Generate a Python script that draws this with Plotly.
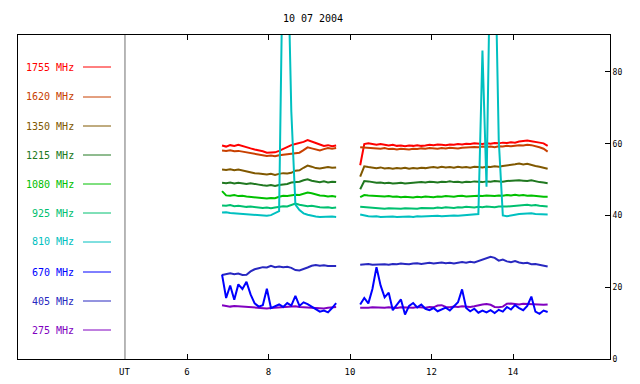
import plotly.graph_objects as go

# ---------------- data ----------------
title_text = "10 07 2004"
labels = ["1755 MHz", "1620 MHz", "1350 MHz", "1215 MHz", "1080 MHz",
          "925 MHz", "810 MHz", "670 MHz", "405 MHz", "275 MHz"]
colors = ["#ff0000", "#c84000", "#805800", "#207820", "#00c000",
          "#00c070", "#00c0c0", "#0000ff", "#2828c0", "#8000c0"]
x_ticks = [6, 8, 10, 12, 14]
y_ticks = [0, 20, 40, 60, 80]
ut_hour = 4.478

# sample times (UT hours) of the two observing blocks
am_start, pm_start, step = 6.86, 10.25, 0.1
am_count, pm_count = 29, 47

mhz1755_am = [59.5, 59.2, 59.6, 59.4, 59.7, 59.3, 59.0, 58.7, 58.4, 58.2, 57.9, 57.5, 57.6, 57.6, 58.0,
              58.6, 59.2, 59.6, 59.9, 60.1, 60.5, 61.0, 60.7, 60.2, 59.8, 59.4, 59.6, 59.3, 59.5]
mhz1755_pm = [54.0, 59.9, 60.1, 59.8, 59.7, 59.9, 59.6, 59.5, 59.7, 59.4, 59.5, 59.3, 59.5, 59.4, 59.6, 59.4,
              59.5, 59.7, 59.6, 59.8, 59.7, 59.6, 59.8, 59.7, 59.9, 59.8, 60.0, 59.9, 60.1, 60.0, 59.9, 60.1,
              60.0, 60.2, 60.1, 60.3, 60.2, 60.4, 60.3, 60.6, 60.8, 60.9, 60.7, 60.6, 60.3, 60.1, 59.4]

mhz1620_am = [58.1, 58.0, 58.2, 57.9, 58.0, 57.8, 57.6, 57.5, 57.2, 57.0, 56.8, 56.6, 56.7, 56.5, 56.8,
              56.9, 57.1, 57.2, 57.4, 57.5, 58.2, 59.0, 58.7, 58.3, 58.1, 58.5, 58.8, 58.6, 58.8]
mhz1620_pm = [59.0, 58.9, 58.8, 58.9, 58.7, 58.6, 58.8, 58.5, 58.6, 58.4, 58.6, 58.5, 58.4, 58.6, 58.5, 58.7,
              58.6, 58.8, 58.7, 58.6, 58.8, 58.7, 58.9, 58.8, 58.7, 58.9, 59.0, 58.9, 59.1, 59.0, 59.2, 59.1,
              59.2, 59.0, 59.3, 59.2, 59.4, 59.3, 59.5, 59.6, 59.5, 59.7, 59.6, 59.4, 59.0, 58.6, 57.8]

mhz1350_am = [52.8, 52.7, 52.9, 52.6, 52.8, 52.5, 52.3, 52.0, 51.8, 51.7, 51.6, 51.4, 51.6, 51.3, 51.6,
              51.8, 51.7, 51.9, 52.5, 52.6, 53.3, 53.9, 53.6, 53.2, 53.1, 53.4, 53.5, 53.3, 53.4]
mhz1350_pm = [50.8, 53.7, 53.5, 53.3, 53.2, 53.4, 53.1, 53.2, 53.0, 53.2, 53.1, 53.3, 53.0, 53.2, 53.1, 53.3,
              53.2, 53.4, 53.5, 53.3, 53.6, 53.4, 53.5, 53.3, 53.6, 53.4, 53.5, 53.3, 53.6, 53.5, 53.4, 53.6,
              53.5, 53.7, 53.6, 53.8, 53.9, 54.1, 54.3, 54.5, 54.2, 54.4, 54.0, 53.8, 53.6, 53.3, 53.0]

mhz1215_am = [49.1, 49.0, 49.2, 48.9, 49.1, 49.0, 48.8, 49.0, 48.7, 48.6, 48.4, 48.3, 48.5, 48.2, 48.5,
              48.6, 48.8, 49.2, 49.3, 49.4, 49.8, 50.1, 49.7, 49.4, 49.3, 49.5, 49.2, 49.4, 49.3]
mhz1215_pm = [47.3, 49.6, 49.5, 49.3, 49.1, 49.2, 49.0, 49.1, 48.9, 49.0, 49.1, 48.9, 49.0, 49.2, 49.1, 49.3,
              49.2, 49.4, 49.3, 49.2, 49.4, 49.3, 49.5, 49.3, 49.4, 49.2, 49.4, 49.3, 49.5, 49.4, 49.3, 49.5,
              49.4, 49.6, 49.5, 49.4, 49.6, 49.7, 49.6, 49.8, 49.7, 49.6, 49.8, 49.5, 49.3, 49.2, 49.0]

mhz1080_am = [46.8, 45.6, 45.5, 45.7, 45.4, 45.5, 45.3, 45.2, 45.0, 44.9, 44.8, 44.7, 44.9, 44.8, 45.2,
              45.5, 45.4, 45.6, 45.8, 45.7, 46.1, 46.4, 46.2, 45.8, 45.6, 45.5, 45.3, 45.4, 45.2]
mhz1080_pm = [45.1, 45.7, 45.6, 45.5, 45.6, 45.4, 45.3, 45.4, 45.2, 45.3, 45.1, 45.2, 45.1, 45.0, 45.2, 45.1,
              45.3, 45.2, 45.1, 45.3, 45.2, 45.4, 45.3, 45.2, 45.4, 45.5, 45.3, 45.4, 45.6, 45.5, 45.4, 45.6,
              45.5, 45.4, 45.6, 45.5, 45.7, 45.6, 45.8, 45.6, 45.7, 45.5, 45.6, 45.4, 45.3, 45.2, 45.2]

mhz925_am = [42.8, 42.7, 42.9, 42.6, 42.7, 42.5, 42.4, 42.5, 42.3, 42.2, 42.1, 42.2, 42.0, 42.2, 42.4,
             42.6, 42.5, 42.9, 43.3, 43.0, 42.8, 42.6, 42.7, 42.4, 42.3, 42.2, 42.3, 42.1, 42.2]
mhz925_pm = [42.4, 42.3, 42.2, 42.1, 42.0, 42.1, 41.9, 42.0, 41.9, 42.0, 41.9, 42.0, 41.9, 42.0, 41.9, 42.1,
             42.0, 42.1, 42.0, 42.2, 42.1, 42.3, 42.2, 42.1, 42.3, 42.2, 42.4, 42.3, 42.2, 42.4, 42.3, 42.5,
             42.4, 42.3, 42.5, 42.4, 42.5, 42.6, 42.7, 42.8, 42.9, 43.0, 42.8, 42.9, 42.7, 42.6, 42.5]

mhz810_am = [40.8, 40.9, 40.7, 40.6, 40.5, 40.5, 40.3, 40.1, 40.0, 39.9, 39.8, 39.9, 40.1, 40.6, 41.2,
             120.0, 120.0, 69.0, 43.0, 41.5, 40.6, 40.2, 39.9, 39.7, 39.6, 39.7, 39.6, 39.7, 39.6]
mhz810_pm = [40.3, 40.0, 39.8, 39.7, 39.8, 39.6, 39.7, 39.6, 39.7, 39.6, 39.7, 39.6, 39.7, 39.6, 39.8, 39.7,
             39.8, 39.7, 39.8, 39.9, 39.8, 39.9, 39.8, 40.0, 39.9, 40.0, 40.1, 40.2, 40.1, 40.4, 86.0, 48.0,
             120.0, 120.0, 61.0, 40.0, 39.8, 39.9, 40.2, 40.4, 40.5, 40.4, 40.6, 40.4, 40.3, 40.4, 40.3]

mhz670_am = [23.5, 17.0, 20.5, 16.5, 20.8, 19.5, 21.5, 18.0, 15.5, 14.6, 15.0, 19.6, 14.2, 14.6, 15.2,
             14.5, 15.6, 14.9, 17.6, 14.8, 15.8, 15.3, 14.6, 13.8, 13.2, 13.5, 13.0, 14.2, 15.6]
mhz670_pm = [15.2, 17.0, 15.5, 19.5, 25.6, 20.5, 17.2, 18.5, 13.6, 15.2, 16.6, 12.4, 14.8, 15.6, 14.4, 15.2,
             14.0, 13.6, 14.2, 13.3, 13.8, 14.3, 13.5, 14.6, 15.8, 19.4, 14.2, 13.3, 14.0, 12.9, 13.5, 13.0,
             13.6, 12.8, 13.7, 13.2, 14.5, 13.8, 15.0, 14.2, 13.6, 14.8, 17.4, 13.2, 12.6, 13.5, 13.1]

mhz405_am = [23.4, 23.7, 23.9, 23.6, 23.8, 23.4, 23.5, 24.4, 25.0, 25.3, 25.6, 25.5, 26.0, 25.6, 25.8,
             25.6, 25.7, 25.4, 24.8, 24.7, 25.0, 25.5, 26.0, 26.2, 26.0, 26.1, 25.9, 26.0, 25.9]
mhz405_pm = [26.3, 26.4, 26.5, 26.3, 26.4, 26.5, 26.4, 26.3, 26.5, 26.4, 26.6, 26.5, 26.4, 26.6, 26.7, 26.5,
             26.6, 26.8, 26.6, 26.7, 26.9, 26.7, 26.8, 26.6, 26.9, 27.0, 26.8, 27.1, 26.9, 27.3, 27.6, 28.0,
             28.5, 28.2, 27.4, 27.7, 27.2, 27.0, 27.3, 26.9, 26.7, 26.8, 26.4, 26.5, 26.2, 26.0, 25.8]

mhz275_am = [15.0, 14.8, 14.6, 14.8, 14.7, 14.6, 14.7, 14.5, 14.4, 14.3, 14.2, 14.1, 14.2, 14.3, 14.5,
             14.6, 14.5, 14.6, 14.7, 14.5, 14.4, 14.3, 14.2, 14.1, 14.0, 14.1, 14.3, 14.4, 14.5]
mhz275_pm = [14.3, 14.2, 14.3, 14.4, 14.3, 14.2, 14.3, 14.4, 14.3, 14.2, 14.4, 14.3, 14.4, 14.3, 14.5, 14.4,
             14.3, 14.5, 14.4, 14.9, 15.0, 14.5, 14.4, 14.6, 14.5, 14.7, 14.6, 14.5, 14.7, 15.0, 15.2, 15.3,
             15.1, 14.5, 14.4, 14.6, 15.4, 15.5, 15.3, 15.2, 15.4, 15.3, 15.2, 15.3, 15.2, 15.1, 15.2]

series = [
    (mhz1755_am, mhz1755_pm), (mhz1620_am, mhz1620_pm), (mhz1350_am, mhz1350_pm),
    (mhz1215_am, mhz1215_pm), (mhz1080_am, mhz1080_pm), (mhz925_am, mhz925_pm),
    (mhz810_am, mhz810_pm), (mhz670_am, mhz670_pm), (mhz405_am, mhz405_pm),
    (mhz275_am, mhz275_pm),
]

# ---------------- figure ----------------
t_am = [round(am_start + step * i, 3) for i in range(am_count)]
t_pm = [round(pm_start + step * i, 3) for i in range(pm_count)]
x_all = t_am + [None] + t_pm

MONO = "DejaVu Sans Mono"
PAGE_OFF = 8                      # default body margin of the html page
FIG_W, FIG_H = 640 - PAGE_OFF, 384 - PAGE_OFF
# target plot frame in page pixels
plot_l, plot_r, plot_t, plot_b = 18, 610, 35, 359
pw, ph = plot_r - plot_l, plot_b - plot_t

fig = go.Figure()

order = [0, 1, 2, 3, 4, 5, 9, 8, 7, 6]
for k in order:
    am, pm = series[k]
    fig.add_trace(go.Scatter(
        x=x_all, y=list(am) + [None] + list(pm), mode="lines",
        line=dict(color=colors[k], width=2), connectgaps=False,
        showlegend=False, hoverinfo="skip"))

# UT marker line
fig.add_shape(type="line", xref="x", yref="paper", x0=ut_hour, x1=ut_hour, y0=0, y1=1,
              line=dict(color="#707070", width=1))
fig.add_annotation(x=ut_hour, xref="x", y=0, yref="paper", yanchor="top", yshift=-6,
                   text="UT", showarrow=False, font=dict(family=MONO, size=9, color="#000000"))

# legend (labels to the left of the line samples)
row_px = [67, 97, 126, 155, 184, 213, 242, 272, 301, 330]
for lab, col, py in zip(labels, colors, row_px):
    yp = (plot_b - py) / ph
    fig.add_annotation(x=(76 - plot_l) / pw, xref="paper", y=yp, yref="paper",
                       xanchor="right", yanchor="middle", text=lab, showarrow=False,
                       font=dict(family=MONO, size=10, color=col))
    fig.add_shape(type="line", xref="paper", yref="paper",
                  x0=(83 - plot_l) / pw, x1=(111 - plot_l) / pw, y0=yp, y1=yp,
                  line=dict(color=col, width=1))

fig.update_layout(
    width=FIG_W, height=FIG_H, autosize=False,
    margin=dict(l=plot_l - PAGE_OFF, r=640 - plot_r, t=plot_t - PAGE_OFF, b=384 - plot_b, pad=0),
    paper_bgcolor="white", plot_bgcolor="white",
    title=dict(text=title_text, x=(313 - PAGE_OFF) / FIG_W, xanchor="center",
               y=1 - (18 - PAGE_OFF) / FIG_H, yanchor="middle",
               font=dict(family=MONO, size=10, color="#000000")),
    xaxis=dict(range=[1.853, 16.38], tickvals=x_ticks, ticktext=[str(v) for v in x_ticks],
               ticks="inside", ticklen=5, tickcolor="black", showline=True, linecolor="black",
               linewidth=1, mirror="ticks", showgrid=False, zeroline=False, ticklabelstandoff=4,
               automargin=False,
               tickfont=dict(family=MONO, size=9, color="#000000")),
    yaxis=dict(range=[0, 90.3], side="right", tickvals=y_ticks, ticks="inside", ticklen=5,
               tickcolor="black", showline=True, linecolor="black", linewidth=1, mirror=True,
               showgrid=False, zeroline=False, automargin=False,
               tickfont=dict(family=MONO, size=8, color="#000000")),
)

fig.write_html("out.html")
